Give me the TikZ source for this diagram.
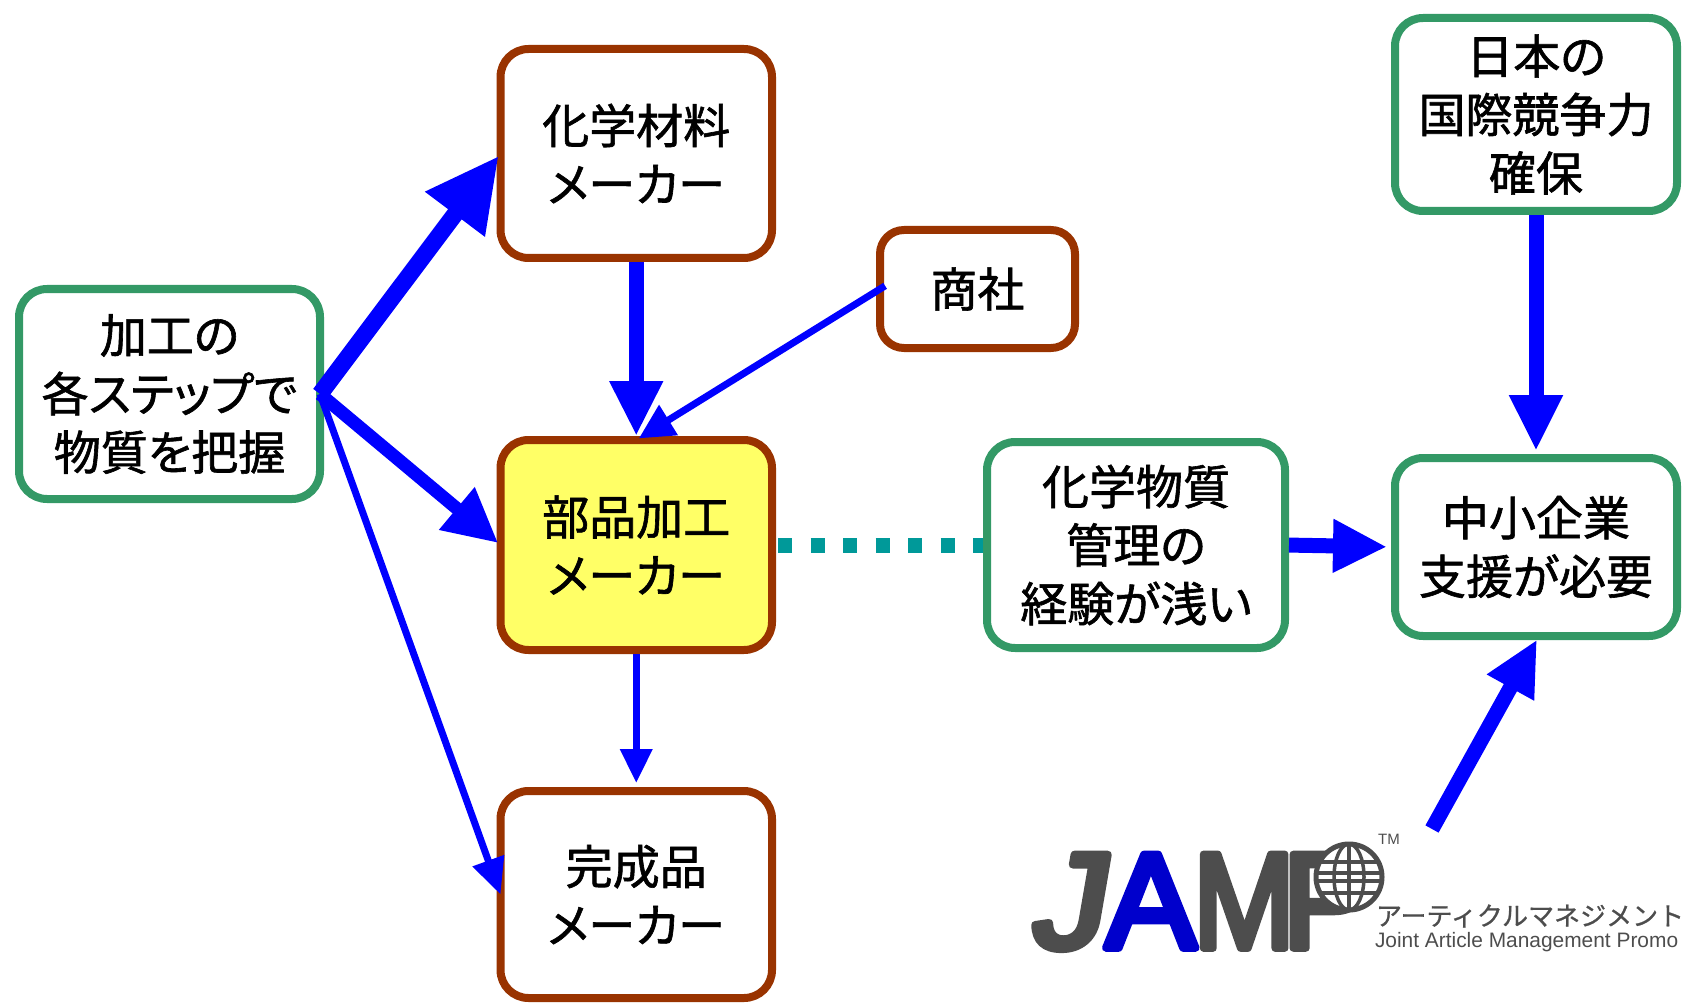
\documentclass[tikz,border=0pt]{standalone}
\usepackage{graphicx}
\usepackage{fontspec}
\setmainfont{Noto Sans CJK JP}[FakeBold=1.3,RawFeature={+palt}]
\newfontfamily\kanafont{Noto Sans CJK JP}[FakeBold=0.8]
\newfontfamily\logofont{Liberation Sans}
\newfontfamily\logoheavy{Liberation Sans}[FakeBold=5.5]
\newfontfamily\logoslant{Liberation Sans}[FakeBold=5.5,FakeSlant=0.16]
\usetikzlibrary{arrows.meta}
\definecolor{boxbrown}{HTML}{993300}
\definecolor{boxgreen}{HTML}{339966}
\definecolor{arrowblue}{HTML}{0000FF}
\definecolor{hiyellow}{HTML}{FFFF66}
\definecolor{dotteal}{HTML}{009999}
\definecolor{logogray}{HTML}{4D4D4D}
\definecolor{logoblue}{HTML}{0000CC}
\tikzset{
  x=1pt,y=1pt,
  basebox/.style={draw,line width=8pt,rounded corners=28pt,fill=white,align=center,inner sep=0pt,outer sep=0pt,font=\fontsize{47}{58.5}\selectfont},
  brownbox/.style={basebox,draw=boxbrown},
  greenbox/.style={basebox,draw=boxgreen},
  conn/.style={draw=arrowblue,line cap=butt},
  logotext/.style={inner sep=0pt,outer sep=0pt,text=logogray},
}
\begin{document}
\begin{tikzpicture}
\useasboundingbox (0,0) rectangle (1682,-1003);
\clip (0,0) rectangle (1682,-1003);
% boxes
\node[greenbox,minimum width=301pt,minimum height=210pt] (left) at (169.5,-394) {加工の\\各ステップで\\物質を把握};
\node[brownbox,minimum width=271.5pt,minimum height=209pt] (kagaku) at (636.25,-153.5) {化学材料\\メーカー};
\node[brownbox,minimum width=195pt,minimum height=118pt,rounded corners=24pt] (shosha) at (977.5,-289) {商社};
\node[brownbox,fill=hiyellow,minimum width=271.5pt,minimum height=210pt] (buhin) at (636.25,-545) {部品加工\\メーカー};
\node[brownbox,minimum width=271.5pt,minimum height=207pt] (kansei) at (636.25,-894.5) {完成品\\メーカー};
\node[greenbox,minimum width=298pt,minimum height=206pt] (keiken) at (1136,-545) {化学物質\\管理の\\経験が浅い};
\node[greenbox,minimum width=282pt,minimum height=193pt] (nihon) at (1536,-114.5) {日本の\\国際競争力\\確保};
\node[greenbox,minimum width=282pt,minimum height=178pt] (chusho) at (1536,-547) {中小企業\\支援が必要};
% connectors
\draw[conn,line width=17pt,-{Triangle[length=73pt,width=70pt]},shorten >=3pt] (left.east) -- (kagaku.west);
\draw[conn,line width=13pt,-{Triangle[length=54pt,width=52pt]},shorten >=3pt] (left.east) -- (buhin.west);
\draw[conn,line width=7pt,-{Triangle[length=36pt,width=32pt]}] (left.east) -- (kansei.west);
\draw[conn,line width=7pt,-{Triangle[length=35pt,width=34pt]},shorten >=3pt,shorten <=-6pt] (shosha.west) -- (buhin.north);
\draw[conn,line width=15pt,-{Triangle[length=55pt,width=50pt]},shorten >=4pt,shorten <=4pt] (kagaku.south) -- (buhin.north);
\draw[conn,line width=7pt,-{Triangle[length=34pt,width=31pt]},shorten >=8pt,shorten <=4pt] (buhin.south) -- (kansei.north);
\draw[draw=dotteal,line width=15pt,dash pattern=on 14pt off 18.5pt,shorten <=6pt,shorten >=4pt] (buhin.east) -- (keiken.west);
\draw[conn,line width=15pt,-{Triangle[length=54pt,width=50pt]},shorten >=8pt,shorten <=4pt] (keiken.east) -- (chusho.west);
\draw[conn,line width=15pt,-{Triangle[length=56pt,width=50pt]},shorten >=7pt,shorten <=4pt] (nihon.south) -- (chusho.north);
\coordinate (logoend) at (1432,-829);
\draw[conn,line width=15pt,-{Triangle[length=55pt,width=50pt]},shorten >=4pt] (logoend) -- ([xshift=3pt]chusho.south);
% logo
\node[logotext,anchor=base west] (jamp) at (1029,-948) {\special{pdf:literal direct 1 j 1 J}\fontsize{136}{136}\selectfont\logoslant\scalebox{1.08}[1]{J}\logoheavy\kern3pt\textcolor{logoblue}{A}\kern-3pt\scalebox{.9}[1]{M}\kern-13pt P};
\fill[white] (1349,-877) circle (34);
\draw[logogray,line width=5pt] (1349,-877) circle (33);
\draw[logogray,line width=3.5pt] (1349,-877) ellipse (15 and 33);
\draw[logogray,line width=3.5pt] (1349,-844) -- (1349,-910);
\draw[logogray,line width=3.5pt] (1319,-862) -- (1379,-862);
\draw[logogray,line width=3.5pt] (1316,-873) -- (1382,-873);
\draw[logogray,line width=3.5pt] (1316,-881) -- (1382,-881);
\draw[logogray,line width=3.5pt] (1319,-893) -- (1379,-893);
\node[logotext,font=\logofont\fontsize{15}{15}\selectfont] (tm) at (1389,-839) {TM};
\node[logotext,anchor=west,font=\kanafont\fontsize{26}{26}\selectfont] (jamptextjp) at (1376,-916) {アーティクルマネジメント};
\node[logotext,anchor=west,font=\logofont\fontsize{20.9}{20.9}\selectfont] (jamptexten) at (1375,-942) {Joint Article Management Promo};
\end{tikzpicture}
\end{document}
